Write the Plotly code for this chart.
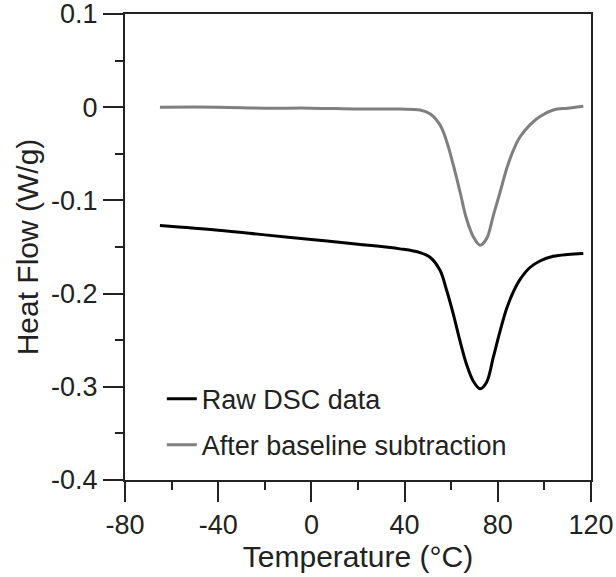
import plotly.graph_objects as go

# Temperature (°C) and heat flow (W/g)
temp_raw = [-65, -40, -20, 0, 20, 38, 46.6, 50.9, 55.2, 58.1, 60.9, 63.8, 66.6, 69.5, 72.4, 75.2, 78.1, 81.0,
            83.8, 86.7, 89.5, 93.8, 98.1, 103.8, 110, 116.7]
heat_raw = [-0.127, -0.132, -0.137, -0.142, -0.147, -0.152, -0.156, -0.161, -0.175, -0.197, -0.222, -0.251,
            -0.276, -0.294, -0.302, -0.295, -0.268, -0.240, -0.216, -0.198, -0.185, -0.172, -0.165, -0.160,
            -0.158, -0.157]

temp_sub = [-65, -40, -20, 0, 20, 38, 46.6, 50.9, 55.2, 58.1, 60.9, 63.8, 66.6, 69.5, 72.4, 75.2, 78.1, 81.0,
            83.8, 86.7, 89.5, 93.8, 98.1, 103.8, 110, 116.7]
heat_sub = [0.0, 0.0, -0.001, -0.001, -0.002, -0.002, -0.003, -0.007, -0.019, -0.037, -0.062, -0.091, -0.120,
            -0.139, -0.148, -0.141, -0.116, -0.091, -0.066, -0.046, -0.032, -0.019, -0.010, -0.003, -0.001, 0.001]

x_ticks = [-80, -40, 0, 40, 80, 120]
y_ticks = [0.1, 0, -0.1, -0.2, -0.3, -0.4]
y_tick_text = ["0.1", "0", "-0.1", "-0.2", "-0.3", "-0.4"]

FONT = "Liberation Sans, Arial, Helvetica, sans-serif"
TXT = "#222222"

fig = go.Figure()
fig.add_trace(go.Scatter(x=temp_raw, y=heat_raw, mode="lines", name="Raw DSC data",
                         line=dict(color="#000000", width=3, shape="spline", smoothing=1.0),
                         legendgroup="a"))
fig.add_trace(go.Scatter(x=temp_sub, y=heat_sub, mode="lines", name="After baseline subtraction",
                         line=dict(color="#7f7f7f", width=3, shape="spline", smoothing=1.0),
                         legendgroup="b"))

axis_common = dict(showgrid=False, zeroline=False, showline=True, linecolor="#222222",
                   linewidth=2, mirror=True, ticks="outside", ticklen=20, tickwidth=2,
                   tickcolor="#222222", tickfont=dict(family=FONT, size=27, color=TXT),
                   automargin=False, ticklabeloverflow="allow")

fig.update_xaxes(range=[-80.0001, 120.0001], tickvals=x_ticks, ticktext=[str(v) for v in x_ticks],
                 title=dict(text="Temperature (°C)", font=dict(family=FONT, size=30, color=TXT), standoff=3),
                 minor=dict(dtick=20, ticks="outside", ticklen=8, tickwidth=2, tickcolor="#222222"),
                 **axis_common)
fig.update_yaxes(range=[-0.40001, 0.10001], tickvals=y_ticks, ticktext=y_tick_text,
                 title=dict(text="Heat Flow (W/g)", font=dict(family=FONT, size=30, color=TXT), standoff=4),
                 minor=dict(dtick=0.05, tick0=0, ticks="outside", ticklen=8, tickwidth=2, tickcolor="#222222"),
                 **axis_common)

fig.update_layout(
    width=616, height=577,
    margin=dict(l=125, r=25, t=14, b=97),
    paper_bgcolor="white", plot_bgcolor="white",
    font=dict(family=FONT, color=TXT),
    showlegend=True,
    legend=dict(x=0.079, y=0.226, xanchor="left", yanchor="top",
                bgcolor="rgba(0,0,0,0)", borderwidth=0,
                font=dict(family=FONT, size=27, color=TXT),
                traceorder="grouped", tracegroupgap=8),
)

# remove the browser's default 8px body margin so the figure fills the window exactly
fig.write_html("out.html", config={"displayModeBar": False},
               post_script="document.body.style.margin='0px';")
